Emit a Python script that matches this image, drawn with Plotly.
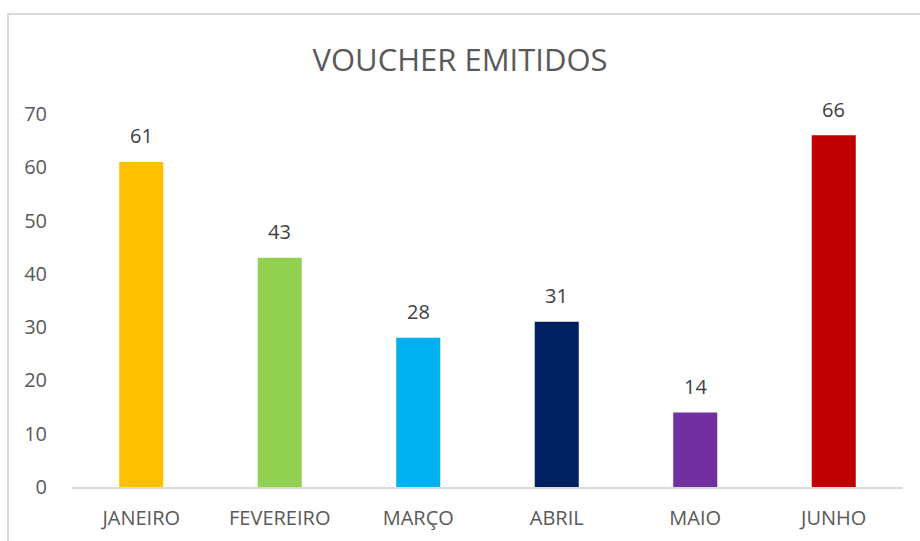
import plotly.graph_objects as go

categories = ["JANEIRO", "FEVEREIRO", "MARÇO", "ABRIL", "MAIO", "JUNHO"]
values = [61, 43, 28, 31, 14, 66]
colors = ["#FFC000", "#92D050", "#00B0F0", "#002060", "#7030A0", "#C00000"]
y_ticks = [0, 10, 20, 30, 40, 50, 60, 70]
title_text = "VOUCHER EMITIDOS"

W, H = 920, 541
ml, mr, mt, mb = 72, 17, 114, 54
pw, ph = W - ml - mr, H - mt - mb
FONT = "Open Sans"

fig = go.Figure()
fig.add_trace(go.Bar(
    x=categories, y=values, marker=dict(color=colors, line=dict(width=0)),
    width=0.318, hoverinfo="x+y",
))

for c, v in zip(categories, values):
    fig.add_annotation(x=c, y=v, text=str(v), showarrow=False, yanchor="middle",
                       yshift=26, font=dict(family=FONT, size=20, color="#404040"))

# chart border (light gray) starting at left/top, running off the picture
fig.add_shape(type="rect", xref="paper", yref="paper",
              x0=(8 - ml) / pw, x1=(W + 20 - ml) / pw,
              y0=-(H + 20 - mt - ph) / ph, y1=(H - 14 - mb) / ph,
              line=dict(color="#D9D9D9", width=2), layer="below")

fig.update_layout(
    width=W, height=H,
    margin=dict(l=ml, r=mr, t=mt, b=mb, autoexpand=False),
    paper_bgcolor="white", plot_bgcolor="white",
    showlegend=False,
    title=dict(text=title_text, x=0.5, xanchor="center", y=1 - 60 / H, yanchor="middle",
               font=dict(family=FONT, size=31, color="#595959")),
    xaxis=dict(showgrid=False, showline=True, linecolor="#D9D9D9", linewidth=1.5,
               ticks="", tickfont=dict(family=FONT, size=20, color="#595959"),
               ticklabelstandoff=12, fixedrange=True, automargin=False),
    yaxis=dict(range=[0, 70], tickvals=y_ticks, showgrid=False, zeroline=False,
               showline=False, ticks="",
               tickfont=dict(family=FONT, size=20, color="#595959"),
               ticklabelstandoff=24, fixedrange=True, automargin=False),
)

fig.write_html("out.html", config={"displayModeBar": False},
               post_script="document.body.style.margin='0';document.body.style.overflow='hidden';")
